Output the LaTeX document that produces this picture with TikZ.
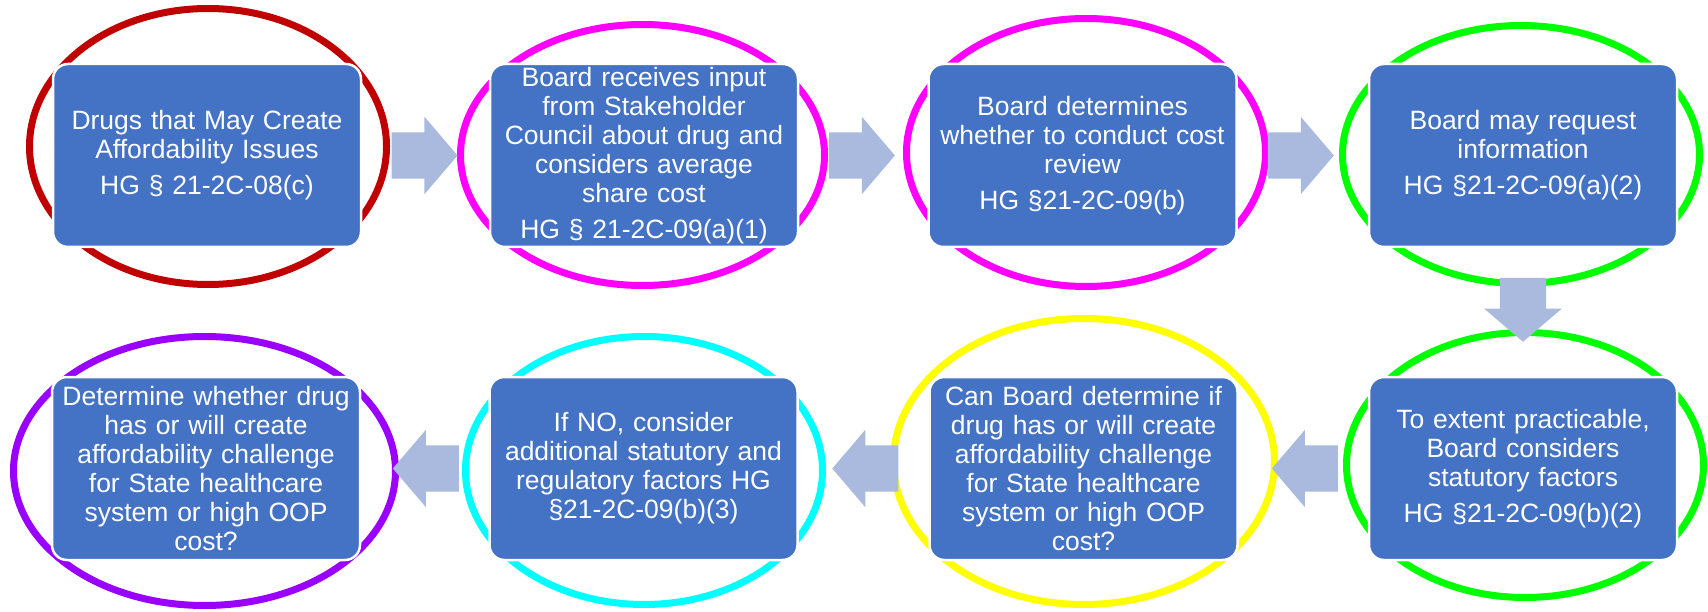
\documentclass[tikz,border=0pt]{standalone}
\usepackage{fontspec}
\setmainfont{Liberation Sans}
\usepackage{tikz}
\usetikzlibrary{shapes.geometric,shapes.arrows}
\definecolor{boxblue}{HTML}{4472C4}
\definecolor{arrowblue}{RGB}{170,185,222}
\definecolor{ringred}{HTML}{C00000}
\definecolor{ringmagenta}{HTML}{FF00FF}
\definecolor{ringgreen}{HTML}{00FF00}
\definecolor{ringyellow}{HTML}{FFFF00}
\definecolor{ringcyan}{HTML}{00FFFF}
\definecolor{ringpurple}{HTML}{9900FF}

\begin{document}
\begin{tikzpicture}[x=1pt,y=-1pt,
  ring/.style={ellipse,draw,line width=7pt,inner sep=0pt},
  stepbox/.style={rectangle,rounded corners=15pt,fill=boxblue,draw=white,line width=2.5pt,
    minimum width=308pt,minimum height=183pt,text width=300pt,align=center,inner sep=0pt,
    text=white,font=\fontsize{26.5}{29}\selectfont},
  bigarrow/.style={single arrow,fill=arrowblue,draw=none,inner xsep=0pt,inner ysep=23pt,
    minimum height=66pt,single arrow head extend=15.5pt,single arrow tip angle=99,
    sloped,allow upside down,anchor=tail,pos=0.23}]
\useasboundingbox (0,0) rectangle (1708,612);
%%%%% Rings %%%%%
\node[ring,draw=ringred,minimum width=357pt,minimum height=276pt] (e1) at (208,146.5) {};
\node[ring,draw=ringmagenta,minimum width=364pt,minimum height=261pt] (e2) at (642.5,155) {};
\node[ring,draw=ringmagenta,minimum width=359pt,minimum height=268pt] (e3) at (1086,152.5) {};
\node[ring,draw=ringgreen,minimum width=357pt,minimum height=258pt] (e4) at (1521,154.5) {};
\node[ring,draw=ringpurple,minimum width=382pt,minimum height=269pt] (e5) at (204.5,471) {};
\node[ring,draw=ringcyan,minimum width=357pt,minimum height=268pt] (e6) at (644,470.5) {};
\node[ring,draw=ringyellow,minimum width=381pt,minimum height=286pt] (e7) at (1084,461.5) {};
\node[ring,draw=ringgreen,minimum width=357pt,minimum height=265pt] (e8) at (1525,465) {};
%%%%% Boxes %%%%%
\node[stepbox] (b1) at (207,155.5) {Drugs that May Create\\Affordability Issues\\[7pt]HG § 21-2C-08(c)};
\node[stepbox] (b2) at (644,155.5) {Board receives input\\from Stakeholder\\Council about drug and\\considers average\\share cost\\[7pt]HG § 21-2C-09(a)(1)};
\node[stepbox] (b3) at (1082.5,155.5) {Board determines\\whether to conduct cost\\review\\[7pt]HG §21-2C-09(b)};
\node[stepbox] (b4) at (1523,155.5) {Board may request\\information\\[7pt]HG §21-2C-09(a)(2)};
\node[stepbox] (b8) at (1523,468.5) {To extent practicable,\\Board considers\\statutory factors\\[7pt]HG §21-2C-09(b)(2)};
\node[stepbox] (b7) at (1083.5,468.5) {Can Board determine if\\drug has or will create\\affordability challenge\\for State healthcare\\system or high OOP\\cost?};
\node[stepbox] (b6) at (643.5,468.5) {If NO, consider\\additional statutory and\\regulatory factors HG\\§21-2C-09(b)(3)};
\node[stepbox] (b5) at (206,468.5) {Determine whether drug\\has or will create\\affordability challenge\\for State healthcare\\system or high OOP\\cost?};
%%%%% Arrows %%%%%
\path (b1.east) -- node[bigarrow] (a1) {} (b2.west);
\path (b2.east) -- node[bigarrow] (a2) {} (b3.west);
\path (b3.east) -- node[bigarrow] (a3) {} (b4.west);
\path (b4.south) -- node[bigarrow,minimum height=64pt] (a4) {} (b8.north);
\path (b8.west) -- node[bigarrow] (a5) {} (b7.east);
\path (b7.west) -- node[bigarrow] (a6) {} (b6.east);
\path (b6.west) -- node[bigarrow] (a7) {} (b5.east);
\end{tikzpicture}
\end{document}
